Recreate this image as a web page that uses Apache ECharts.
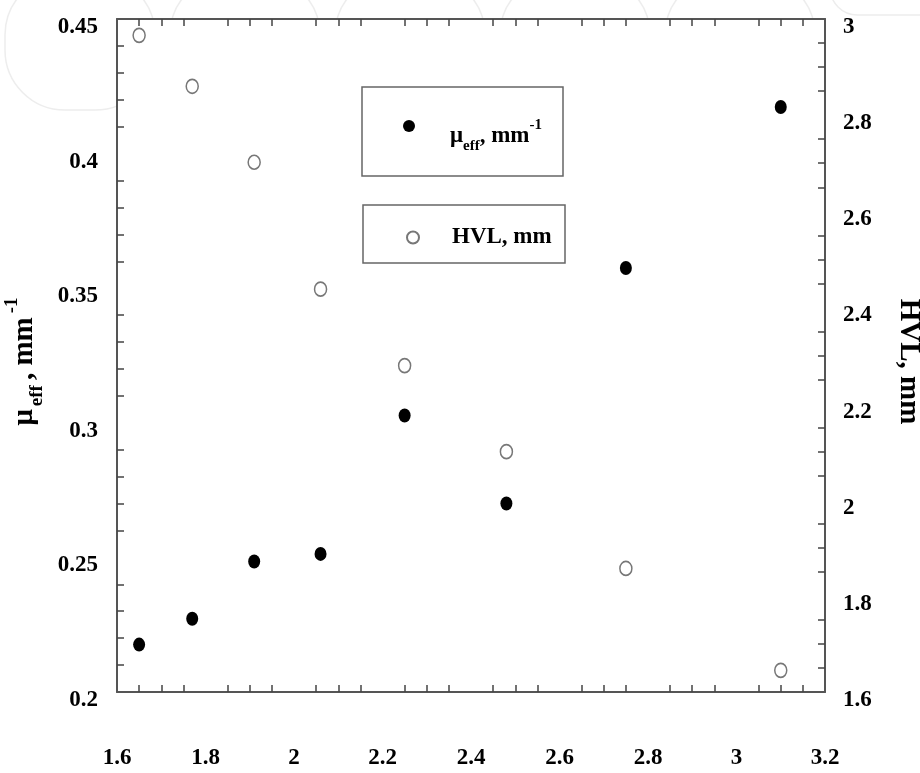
<!DOCTYPE html>
<html>
<head>
<meta charset="utf-8">
<script src="https://cdn.jsdelivr.net/npm/echarts@6/dist/echarts.min.js"></script>
<style>
html,body{margin:0;padding:0;background:#fff;}
#chart{width:920px;height:773px;}
</style>
</head>
<body>
<div id="chart"></div>
<script>
// Data
const energyX = [1.65, 1.77, 1.91, 2.06, 2.25, 2.48, 2.75, 3.10];
const muEff   = [0.2176, 0.2272, 0.2485, 0.2513, 0.3027, 0.2700, 0.3575, 0.4173];
const hvlMm   = [2.966, 2.860, 2.702, 2.438, 2.279, 2.100, 1.857, 1.645];
const xTicks  = [1.6, 1.8, 2, 2.2, 2.4, 2.6, 2.8, 3, 3.2];
const leftTicks  = [0.2, 0.25, 0.3, 0.35, 0.4, 0.45];
const rightTicks = [1.6, 1.8, 2, 2.2, 2.4, 2.6, 2.8, 3];
const muName  = 'μeff, mm-1';
const hvlName = 'HVL, mm';

const FONT = 'Liberation Serif';
const muRich = '{m|μ}{s|eff}{m|, mm}{p|-1}';
const legendRich = {
  m: {fontFamily: FONT, fontWeight: 'bold', fontSize: 23, color: '#000', verticalAlign: 'middle', lineHeight: 36},
  s: {fontFamily: FONT, fontWeight: 'bold', fontSize: 15, color: '#000', verticalAlign: 'bottom', lineHeight: 18},
  p: {fontFamily: FONT, fontWeight: 'bold', fontSize: 15, color: '#000', verticalAlign: 'top', lineHeight: 12}
};
const titleRich = {
  m: {fontFamily: FONT, fontWeight: 'bold', fontSize: 29, color: '#000', verticalAlign: 'middle', lineHeight: 44, padding: [0, 2, 0, 2]},
  s: {fontFamily: FONT, fontWeight: 'bold', fontSize: 19, color: '#000', verticalAlign: 'bottom', lineHeight: 22, padding: [0, 3, 0, 1]},
  p: {fontFamily: FONT, fontWeight: 'bold', fontSize: 19, color: '#000', verticalAlign: 'top', lineHeight: 14, padding: [0, 0, 0, 2]}
};

const chart = echarts.init(document.getElementById('chart'), null, {renderer: 'canvas'});

// faint watermark shapes behind the plot
const watermark = [];
[5, 170, 335, 500, 665].forEach(function (x) {
  watermark.push({type: 'rect', z: -5, silent: true,
    shape: {x: x, y: -25, width: 150, height: 135, r: 60},
    style: {fill: null, stroke: '#ededed', lineWidth: 1.5}});
});
watermark.push({type: 'rect', z: -5, silent: true,
  shape: {x: 830, y: -40, width: 150, height: 55, r: 30},
  style: {fill: null, stroke: '#ededed', lineWidth: 1.5}});

const axisLineStyle = {color: '#555', width: 2};
const labelStyle = {fontFamily: FONT, fontWeight: 'bold', fontSize: 23, color: '#000'};
const minorStyle = {color: '#444', width: 1.5};

const option = {
  backgroundColor: '#fff',
  animation: false,
  grid: {left: 117, right: 95, top: 19, bottom: 81, show: true, backgroundColor: '#fff', borderWidth: 0, outerBoundsMode: 'none', containLabel: false},
  graphic: watermark.concat([
    {type: 'rect', z: 10, silent: true, shape: {x: 362, y: 87, width: 201, height: 89}, style: {fill: null, stroke: '#666', lineWidth: 1.5}},
    {type: 'rect', z: 10, silent: true, shape: {x: 363, y: 205, width: 202, height: 58}, style: {fill: null, stroke: '#666', lineWidth: 1.5}}
  ]),
  legend: [
    {data: [muName], left: 403, top: 118, itemWidth: 12, itemHeight: 15, symbolKeepAspect: false, padding: 0, selectedMode: false,
     formatter: function () { return muRich; },
     textStyle: {fontFamily: FONT, fontWeight: 'bold', fontSize: 23, color: '#000', padding: [20, 0, 0, 30], rich: legendRich}},
    {data: [hvlName], left: 406, top: 226, itemWidth: 12, itemHeight: 13, symbolKeepAspect: false, padding: 0, selectedMode: false,
     textStyle: {fontFamily: FONT, fontWeight: 'bold', fontSize: 23, color: '#000', padding: [0, 0, 0, 28]}}
  ],
  xAxis: [
    {type: 'value', position: 'bottom', min: xTicks[0], max: xTicks[xTicks.length - 1], interval: 0.2,
     axisLine: {show: true, onZero: false, lineStyle: axisLineStyle},
     axisTick: {show: false, inside: true},
     minorTick: {show: true, splitNumber: 4, length: 7, lineStyle: minorStyle},
     splitLine: {show: false}, minorSplitLine: {show: false},
     axisLabel: Object.assign({margin: 55, showMinLabel: true, showMaxLabel: true}, labelStyle)},
    {type: 'value', position: 'top', min: xTicks[0], max: xTicks[xTicks.length - 1], interval: 0.2,
     axisLine: {show: true, onZero: false, lineStyle: axisLineStyle},
     axisTick: {show: false, inside: true},
     minorTick: {show: true, splitNumber: 4, length: 7, lineStyle: minorStyle},
     splitLine: {show: false}, axisLabel: {show: false}}
  ],
  yAxis: [
    {type: 'value', position: 'left', min: leftTicks[0], max: leftTicks[leftTicks.length - 1], interval: 0.05,
     axisLine: {show: true, onZero: false, lineStyle: axisLineStyle},
     axisTick: {show: false, inside: true},
     minorTick: {show: true, splitNumber: 5, length: 7, lineStyle: minorStyle},
     splitLine: {show: false},
     axisLabel: Object.assign({margin: 19, verticalAlign: 'top', lineHeight: 16, showMinLabel: true, showMaxLabel: true}, labelStyle),
     name: muRich, nameLocation: 'middle', nameRotate: 90, nameGap: 64,
     nameTextStyle: {rich: titleRich, padding: [0, 14, 0, 0]}},
    {type: 'value', position: 'right', min: rightTicks[0], max: rightTicks[rightTicks.length - 1], interval: 0.2,
     axisLine: {show: true, onZero: false, lineStyle: axisLineStyle},
     axisTick: {show: false, inside: true},
     minorTick: {show: true, splitNumber: 4, length: 7, lineStyle: minorStyle},
     splitLine: {show: false},
     axisLabel: Object.assign({margin: 18, verticalAlign: 'top', lineHeight: 16, showMinLabel: true, showMaxLabel: true}, labelStyle),
     name: hvlName, nameLocation: 'middle', nameRotate: -90, nameGap: 69,
     nameTextStyle: {fontFamily: FONT, fontWeight: 'bold', fontSize: 29, color: '#000', padding: [0, 0, 0, 12]}}
  ],
  series: [
    {name: muName, type: 'scatter', xAxisIndex: 0, yAxisIndex: 0, symbol: 'circle', symbolSize: [12, 14],
     itemStyle: {color: '#000', opacity: 1},
     data: energyX.map(function (x, i) { return [x, muEff[i]]; })},
    {name: hvlName, type: 'scatter', xAxisIndex: 0, yAxisIndex: 1, symbol: 'circle', symbolSize: [12, 14],
     itemStyle: {color: '#fff', borderColor: '#777', borderWidth: 1.6, opacity: 1},
     data: energyX.map(function (x, i) { return [x, hvlMm[i]]; })}
  ]
};
chart.setOption(option);
</script>
</body>
</html>
